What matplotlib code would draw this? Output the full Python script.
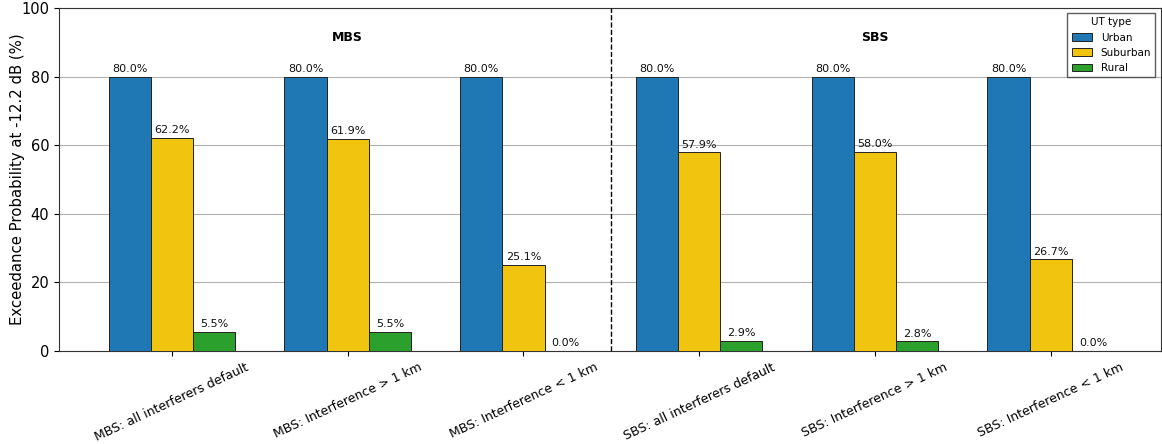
import matplotlib
matplotlib.use("Agg")
import matplotlib.pyplot as plt
import numpy as np

categories = ["MBS: all interferers default", "MBS: Interference > 1 km", "MBS: Interference < 1 km",
              "SBS: all interferers default", "SBS: Interference > 1 km", "SBS: Interference < 1 km"]
urban = [80.0, 80.0, 80.0, 80.0, 80.0, 80.0]
suburban = [62.2, 61.9, 25.1, 57.9, 58.0, 26.7]
rural = [5.5, 5.5, 0.0, 2.9, 2.8, 0.0]
series_names = ["Urban", "Suburban", "Rural"]
colors = ["#1f77b4", "#f1c40f", "#2ca02c"]

fig = plt.figure(figsize=(11.62, 4.44), dpi=100)
ax = fig.add_axes([0.0508, 0.2095, 0.948, 0.7725])

x = np.arange(len(categories))
w = 0.24
for i, (vals, name, c) in enumerate(zip([urban, suburban, rural], series_names, colors)):
    pos = x + (i - 1) * w
    ax.bar(pos, vals, w, color=c, edgecolor="#222222", linewidth=0.7, label=name, zorder=3)
    for p, v in zip(pos, vals):
        ax.text(p, v + 0.8, f"{v:.1f}%", ha="center", va="bottom", fontsize=8, color="#111111", zorder=4)

ax.set_ylim(0, 100)
ax.set_xlim(-0.642, 5.625)
ax.set_yticks([0, 20, 40, 60, 80, 100])
ax.tick_params(axis="y", labelsize=10.5)
ax.set_xticks(x)
ax.set_xticklabels(categories, rotation=25, ha="center", fontsize=9)
ax.set_ylabel("Exceedance Probability at -12.2 dB (%)", fontsize=10.7)
ax.yaxis.set_label_coords(-0.031, 0.5)
ax.yaxis.grid(True, color="#b0b0b0", linewidth=0.8, zorder=0)
ax.set_axisbelow(True)
ax.axvline(2.5, color="black", linestyle="--", linewidth=1.0, zorder=5)
ax.text(1, 91.5, "MBS", ha="center", va="center", fontsize=9, fontweight="bold")
ax.text(4, 91.5, "SBS", ha="center", va="center", fontsize=9, fontweight="bold")
for s in ax.spines.values():
    s.set_color("#333333")
ax.legend(title="UT type", loc="upper right", fontsize=7.5, title_fontsize=7.5, edgecolor="#333333", fancybox=False)

fig.savefig("out.png", dpi=100)
